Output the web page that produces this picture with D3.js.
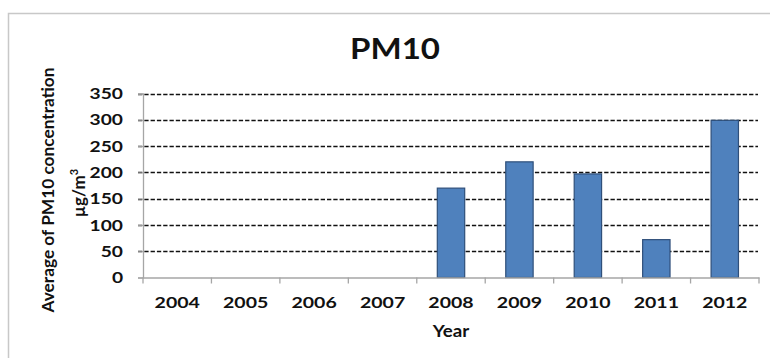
<!DOCTYPE html>
<html>
<head>
<meta charset="utf-8">
<script src="https://cdn.jsdelivr.net/npm/d3@7"></script>
<style>
  html, body { margin: 0; padding: 0; background: #fff; }
  svg { display: block; font-family: Lato, "Open Sans", sans-serif; }
</style>
</head>
<body>
<svg id="chart" width="770" height="358"></svg>
<script>
// PM10 yearly average concentration (µg/m³)
const years = ["2004", "2005", "2006", "2007", "2008", "2009", "2010", "2011", "2012"];
const pm10 = [0, 0, 0, 0, 170, 220, 197, 72, 299];
const yTicks = [0, 50, 100, 150, 200, 250, 300, 350];

const svg = d3.select("#chart");
const W = 770, H = 358;
const plot = { left: 143, right: 759, top: 93.5, bottom: 277.5 };

// Widen text horizontally (condensed-looking glyphs drawn wider)
function widen(sel, k) {
  sel.each(function () {
    const len = this.getComputedTextLength();
    d3.select(this).attr("textLength", len * k).attr("lengthAdjust", "spacingAndGlyphs");
  });
}

// Chart-area frame
svg.append("rect")
  .attr("x", 8.5).attr("y", 13.5)
  .attr("width", W).attr("height", H)
  .attr("fill", "#fff")
  .attr("stroke", "#c8c8c8").attr("stroke-width", 1.5);

const x = d3.scaleBand().domain(years).range([plot.left, plot.right]).paddingInner(0).paddingOuter(0);
const y = d3.scaleLinear().domain([0, 350]).range([plot.bottom, plot.top]);

// Horizontal dashed gridlines
svg.append("g")
  .selectAll("line")
  .data(yTicks.filter(d => d > 0))
  .join("line")
  .attr("x1", plot.left - 5).attr("x2", plot.right - 1)
  .attr("y1", d => Math.round(y(d)) + 0.5).attr("y2", d => Math.round(y(d)) + 0.5)
  .attr("stroke", "#111").attr("stroke-width", 1.5)
  .attr("stroke-dasharray", "4.3,2");

// Bars (150% gap width => bar is 40% of the category band)
const barW = x.bandwidth() * 0.4;
svg.append("g")
  .selectAll("rect")
  .data(years.map((yr, i) => ({ yr, v: pm10[i] })).filter(d => d.v > 0))
  .join("rect")
  .attr("x", d => x(d.yr) + (x.bandwidth() - barW) / 2)
  .attr("y", d => y(d.v))
  .attr("width", barW)
  .attr("height", d => y(0) - y(d.v))
  .attr("fill", "#4f81bd")
  .attr("stroke", "#2f4f7a").attr("stroke-width", 1.2);

// Y axis
const yAxis = svg.append("g")
  .attr("transform", `translate(${plot.left},0)`)
  .call(d3.axisLeft(y).tickValues(yTicks).tickSize(5).tickPadding(15));
yAxis.select(".domain").attr("stroke", "#a6a6a6").attr("stroke-width", 1.3);
yAxis.selectAll(".tick line").attr("stroke", "#a6a6a6");
yAxis.selectAll(".tick text")
  .attr("font-family", "Lato, sans-serif")
  .attr("font-weight", "bold").attr("font-size", 16).attr("fill", "#111")
  .call(widen, 1.2);

// X axis with boundary tick marks between categories
const xAxis = svg.append("g")
  .attr("transform", `translate(0,${plot.bottom})`)
  .call(d3.axisBottom(x).tickSize(0).tickPadding(19));
xAxis.select(".domain").attr("stroke", "#a6a6a6").attr("stroke-width", 1.3);
xAxis.selectAll(".tick text")
  .attr("font-family", "Lato, sans-serif")
  .attr("font-weight", "bold").attr("font-size", 16).attr("fill", "#111")
  .call(widen, 1.22);
xAxis.selectAll("line.bound")
  .data(years.map(d => x(d)).concat([plot.right]))
  .join("line")
  .attr("class", "bound")
  .attr("x1", d => d).attr("x2", d => d)
  .attr("y1", 0).attr("y2", 6)
  .attr("stroke", "#a6a6a6").attr("stroke-width", 1.3);

// Title
svg.append("text")
  .attr("x", 395).attr("y", 59)
  .attr("text-anchor", "middle")
  .attr("font-family", "Lato, sans-serif")
  .attr("font-weight", "bold").attr("font-size", 28).attr("fill", "#111")
  .text("PM10")
  .call(widen, 1.18);

// X axis title
svg.append("text")
  .attr("x", (plot.left + plot.right) / 2).attr("y", 337)
  .attr("text-anchor", "middle")
  .attr("font-family", "Lato, sans-serif")
  .attr("font-weight", "bold").attr("font-size", 17).attr("fill", "#111")
  .text("Year")
  .call(widen, 1.1);

// Y axis title (two lines)
const yt = svg.append("text")
  .attr("transform", "translate(54,190) rotate(-90)")
  .attr("text-anchor", "middle")
  .attr("font-family", "Lato, sans-serif")
  .attr("font-weight", "bold").attr("font-size", 17).attr("fill", "#111");
yt.append("tspan").attr("x", 0).attr("dy", 0)
  .attr("textLength", 245).attr("lengthAdjust", "spacingAndGlyphs")
  .text("Average of PM10 concentration");
yt.append("tspan").attr("x", -3).attr("dy", 31).text("µg/m");
yt.append("tspan").attr("dy", -7).attr("font-size", 11).text("3");
</script>
</body>
</html>
